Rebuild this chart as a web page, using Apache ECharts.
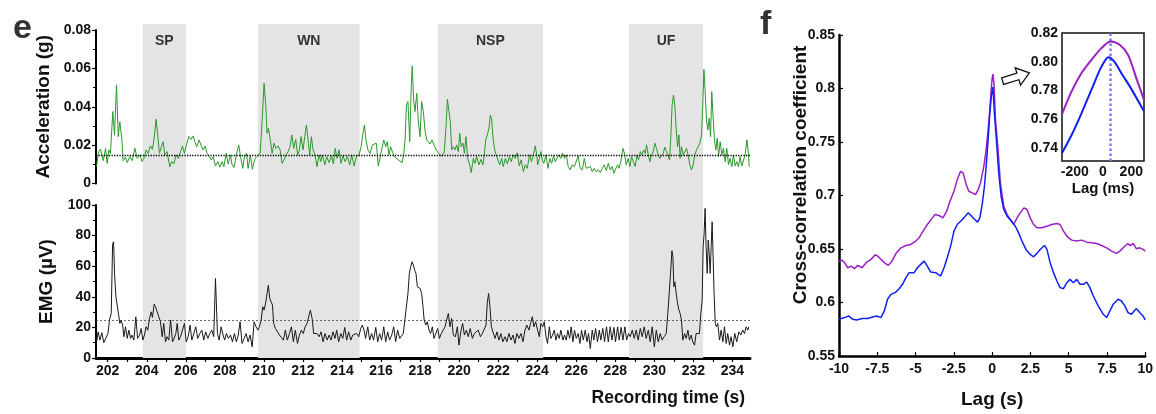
<!DOCTYPE html>
<html>
<head>
<meta charset="utf-8">
<script src="https://cdn.jsdelivr.net/npm/echarts@6/dist/echarts.min.js"></script>
<style>
  html, body { margin: 0; padding: 0; background: #fff; }
  #chart { width: 1156px; height: 414px; }
</style>
</head>
<body>
<div id="chart"></div>
<script>
// panel e, top: acceleration trace [time (s), g]
const accData = [
  [201.43,0.009],[201.53,0.0166],[201.63,0.0178],[201.77,0.0119],[201.89,0.0183],[201.97,0.0105],[202.06,0.0175],[202.14,0.0157],[202.26,0.0375],[202.35,0.0253],
  [202.45,0.0514],[202.54,0.0244],[202.62,0.0322],[202.72,0.0236],[202.79,0.0119],[202.91,0.0137],[203.00,0.0109],[203.13,0.014],[203.25,0.0119],[203.39,0.0183],
  [203.51,0.0131],[203.65,0.0149],[203.76,0.0114],[203.85,0.0131],[203.97,0.0175],[204.07,0.0157],[204.19,0.0196],[204.29,0.0178],[204.38,0.0236],[204.48,0.0335],
  [204.57,0.0244],[204.65,0.0157],[204.75,0.0192],[204.84,0.0218],[204.92,0.0149],[205.04,0.0166],[205.18,0.0088],[205.28,0.0114],[205.39,0.0102],[205.5,0.0149],
  [205.61,0.0131],[205.73,0.0166],[205.83,0.0196],[205.93,0.0157],[206.03,0.0201],[206.15,0.0244],[206.27,0.023],[206.38,0.0248],[206.46,0.0218],[206.56,0.0192],
  [206.68,0.0227],[206.79,0.0196],[206.89,0.0175],[206.99,0.0196],[207.09,0.0157],[207.19,0.0166],[207.31,0.0123],[207.4,0.014],[207.52,0.0091],[207.64,0.0114],
  [207.74,0.0085],[207.86,0.0114],[207.95,0.0088],[208.07,0.0157],[208.17,0.0102],[208.29,0.0149],[208.37,0.0097],[208.47,0.0083],[208.59,0.0149],[208.71,0.0201],
  [208.82,0.0131],[208.92,0.0079],[209.0,0.0137],[209.11,0.0157],[209.19,0.0079],[209.31,0.0149],[209.41,0.0074],[209.52,0.0123],[209.62,0.014],[209.72,0.0149],
  [209.81,0.0157],[209.91,0.0331],[210.01,0.0522],[210.1,0.04],[210.16,0.0262],[210.23,0.0288],[210.33,0.0227],[210.42,0.0157],[210.52,0.021],[210.62,0.0183],
  [210.73,0.0196],[210.83,0.0175],[210.93,0.0105],[211.03,0.0123],[211.14,0.0149],[211.24,0.0166],[211.34,0.0192],[211.43,0.0253],[211.53,0.0183],[211.63,0.023],
  [211.73,0.0149],[211.82,0.0175],[211.9,0.0244],[212.01,0.0175],[212.09,0.0244],[212.18,0.0305],[212.26,0.0227],[212.35,0.0149],[212.43,0.0244],[212.52,0.0175],
  [212.62,0.0149],[212.72,0.0088],[212.83,0.0149],[212.91,0.0114],[212.99,0.0149],[213.12,0.0097],[213.22,0.014],[213.34,0.0109],[213.46,0.0144],[213.56,0.0102],
  [213.65,0.0183],[213.75,0.0131],[213.85,0.0175],[213.95,0.0105],[214.05,0.0144],[214.16,0.0114],[214.28,0.014],[214.4,0.0097],[214.5,0.0149],[214.62,0.0091],
  [214.74,0.014],[214.87,0.0149],[214.98,0.0192],[215.06,0.0253],[215.15,0.0305],[215.23,0.0227],[215.33,0.0175],[215.44,0.0157],[215.56,0.0201],[215.66,0.0196],
  [215.76,0.021],[215.86,0.0091],[215.95,0.0088],[216.03,0.0175],[216.14,0.0227],[216.24,0.0192],[216.32,0.0218],[216.41,0.0149],[216.49,0.0192],[216.6,0.016],
  [216.68,0.014],[216.78,0.0149],[216.89,0.0123],[216.97,0.0131],[217.08,0.0109],[217.16,0.0149],[217.23,0.0227],[217.3,0.0409],[217.38,0.0427],[217.47,0.0218],
  [217.55,0.0514],[217.6,0.0613],[217.67,0.0435],[217.74,0.0375],[217.83,0.047],[217.91,0.0322],[218.0,0.0244],[218.08,0.0427],[218.17,0.0375],[218.25,0.0279],
  [218.34,0.0227],[218.41,0.0236],[218.51,0.0206],[218.61,0.0227],[218.71,0.0218],[218.82,0.0175],[218.92,0.0166],[219.02,0.0149],[219.14,0.0144],[219.24,0.0166],
  [219.33,0.0296],[219.4,0.0439],[219.48,0.0375],[219.55,0.0322],[219.62,0.0175],[219.7,0.0192],[219.79,0.0175],[219.87,0.0201],[219.96,0.0166],[220.03,0.0262],
  [220.11,0.0192],[220.2,0.021],[220.27,0.0157],[220.35,0.0244],[220.44,0.0131],[220.54,0.0097],[220.62,0.0057],[220.73,0.0131],[220.81,0.0105],[220.9,0.014],
  [221.02,0.0097],[221.12,0.0126],[221.22,0.0097],[221.29,0.0149],[221.36,0.0227],[221.44,0.0253],[221.53,0.0288],[221.6,0.0357],[221.67,0.0331],[221.73,0.0244],
  [221.82,0.0175],[221.9,0.0149],[221.99,0.0123],[222.08,0.0097],[222.18,0.0131],[222.26,0.0088],[222.37,0.0131],[222.47,0.0102],[222.57,0.014],[222.67,0.0114],
  [222.77,0.0149],[222.88,0.0131],[222.98,0.016],[223.08,0.0091],[223.18,0.0123],[223.29,0.0062],[223.39,0.0097],[223.49,0.0079],[223.61,0.0149],[223.71,0.0114],
  [223.82,0.0157],[223.9,0.0196],[223.99,0.014],[224.02,0.0097],[224.11,0.0131],[224.19,0.0166],[224.26,0.0123],[224.34,0.0105],[224.45,0.0149],[224.55,0.0079],
  [224.65,0.0131],[224.74,0.0105],[224.84,0.0144],[224.92,0.0114],[225.01,0.0123],[225.11,0.0149],[225.21,0.0131],[225.3,0.0157],[225.39,0.0131],[225.49,0.0149],
  [225.59,0.0088],[225.69,0.0071],[225.79,0.0097],[225.9,0.0088],[226.0,0.0091],[226.1,0.0144],[226.2,0.0079],[226.31,0.0071],[226.41,0.0131],[226.51,0.0079],
  [226.61,0.0071],[226.72,0.0088],[226.82,0.0062],[226.92,0.0079],[227.02,0.0062],[227.13,0.0071],[227.23,0.0057],[227.33,0.0079],[227.43,0.0097],[227.54,0.0067],
  [227.64,0.0105],[227.74,0.0071],[227.84,0.0088],[227.93,0.0053],[228.03,0.0079],[228.12,0.0097],[228.2,0.0079],[228.3,0.0123],[228.39,0.0183],[228.47,0.0157],
  [228.56,0.0097],[228.66,0.0131],[228.75,0.0088],[228.83,0.014],[228.93,0.0149],[229.02,0.0088],[229.11,0.0149],[229.19,0.0123],[229.28,0.0166],[229.36,0.0149],
  [229.45,0.0175],[229.53,0.0157],[229.6,0.0201],[229.69,0.0149],[229.77,0.0114],[229.86,0.0149],[229.94,0.0166],[230.03,0.021],[230.11,0.0183],[230.2,0.0149],
  [230.28,0.0131],[230.37,0.0123],[230.45,0.0157],[230.54,0.0189],[230.62,0.0166],[230.71,0.014],[230.78,0.0123],[230.85,0.0253],[230.91,0.0409],[230.98,0.0461],
  [231.05,0.0409],[231.12,0.0279],[231.19,0.0192],[231.26,0.0253],[231.32,0.0131],[231.39,0.0192],[231.48,0.0149],[231.56,0.0157],[231.65,0.0183],[231.73,0.0149],
  [231.82,0.0097],[231.9,0.0071],[231.99,0.0097],[232.07,0.0149],[232.16,0.0175],[232.25,0.0183],[232.33,0.021],[232.42,0.0253],[232.48,0.0409],[232.54,0.0595],
  [232.6,0.0487],[232.67,0.0331],[232.74,0.0279],[232.81,0.034],[232.88,0.0244],[232.94,0.0479],[233.01,0.0348],[233.08,0.0227],[233.15,0.0175],[233.22,0.0236],
  [233.29,0.014],[233.37,0.0218],[233.46,0.0149],[233.54,0.0183],[233.63,0.0114],[233.71,0.0183],[233.8,0.0097],[233.88,0.0131],[233.97,0.0088],[234.05,0.0149],
  [234.14,0.0091],[234.22,0.0114],[234.31,0.0088],[234.39,0.014],[234.48,0.0091],[234.57,0.0123],[234.65,0.0149],[234.74,0.0227],[234.81,0.0166],[234.86,0.0088]
];

// panel e, bottom: EMG trace [time (s), µV]
const emgData = [
  [201.43,10.6],[201.51,17.1],[201.6,11.7],[201.7,16.5],[201.8,10.0],[201.9,10.6],[202.01,16.0],[202.09,24.8],[202.18,29.1],[202.25,74.4],
  [202.3,76.0],[202.35,55.3],[202.42,40.0],[202.48,41.1],[202.55,29.1],[202.62,22.6],[202.69,24.8],[202.76,21.5],[202.83,13.9],[202.91,20.4],
  [203.0,12.8],[203.08,18.2],[203.17,12.8],[203.24,15.0],[203.34,11.7],[203.44,26.9],[203.53,12.8],[203.63,15.0],[203.71,19.3],[203.8,11.7],
  [203.88,15.0],[203.97,20.4],[204.05,18.2],[204.14,25.9],[204.23,30.2],[204.29,26.5],[204.38,35.2],[204.45,33.5],[204.53,30.2],[204.62,26.9],
  [204.7,23.7],[204.79,13.9],[204.87,22.6],[204.96,10.6],[205.04,13.9],[205.13,11.7],[205.22,24.8],[205.32,10.6],[205.4,12.8],[205.49,16.0],
  [205.56,22.6],[205.64,11.7],[205.73,13.9],[205.83,13.9],[205.93,22.6],[206.02,10.6],[206.12,13.9],[206.22,21.5],[206.31,11.7],[206.41,12.8],
  [206.51,20.4],[206.61,12.8],[206.72,16.0],[206.82,18.2],[206.92,11.7],[207.02,17.1],[207.13,12.8],[207.23,16.0],[207.33,18.2],[207.43,13.9],
  [207.52,52.0],[207.57,53.1],[207.62,16.0],[207.71,11.7],[207.81,20.4],[207.91,15.0],[207.99,11.7],[208.08,16.0],[208.18,12.8],[208.29,15.0],
  [208.39,10.6],[208.49,16.0],[208.59,10.6],[208.68,14.3],[208.78,23.7],[208.88,9.5],[208.99,12.8],[209.09,16.0],[209.19,10.6],[209.29,15.0],
  [209.4,7.3],[209.5,23.7],[209.6,20.4],[209.69,18.2],[209.77,20.4],[209.86,24.8],[209.94,33.5],[210.01,31.3],[210.1,36.7],[210.16,42.2],
  [210.23,47.6],[210.3,38.9],[210.37,37.8],[210.44,34.6],[210.5,22.6],[210.59,19.3],[210.69,18.2],[210.8,15.0],[210.9,16.0],[211.0,11.7],
  [211.1,18.2],[211.2,11.7],[211.31,16.0],[211.41,20.4],[211.51,10.6],[211.61,18.2],[211.72,9.5],[211.82,15.0],[211.92,18.2],[212.02,16.0],
  [212.11,20.4],[212.21,22.6],[212.3,23.7],[212.38,31.3],[212.47,25.9],[212.55,16.0],[212.64,15.0],[212.72,16.0],[212.83,13.9],[212.93,17.1],
  [213.03,10.6],[213.13,16.0],[213.24,11.7],[213.34,15.0],[213.44,11.7],[213.54,17.1],[213.64,12.8],[213.73,18.2],[213.83,10.6],[213.94,16.0],
  [214.04,12.8],[214.14,20.0],[214.24,11.7],[214.34,17.1],[214.45,11.7],[214.55,15.0],[214.65,13.9],[214.75,16.0],[214.86,13.9],[214.96,19.3],
  [215.04,21.5],[215.13,18.2],[215.21,12.8],[215.32,20.4],[215.42,11.7],[215.52,16.0],[215.62,11.7],[215.73,20.0],[215.83,10.6],[215.93,16.0],
  [216.03,11.7],[216.14,20.4],[216.24,10.6],[216.34,17.1],[216.44,11.7],[216.55,15.0],[216.65,20.4],[216.75,10.6],[216.85,18.2],[216.96,12.8],
  [217.06,13.9],[217.14,16.0],[217.23,25.9],[217.31,27.0],[217.38,42.2],[217.45,55.3],[217.52,59.6],[217.59,62.9],[217.66,60.7],[217.72,57.4],
  [217.79,55.3],[217.86,46.6],[217.93,47.6],[218.0,45.5],[218.08,42.2],[218.15,33.5],[218.21,24.8],[218.29,21.5],[218.37,23.7],[218.46,18.2],
  [218.54,16.0],[218.63,20.4],[218.71,12.8],[218.8,11.7],[218.9,19.3],[218.99,12.8],[219.09,16.0],[219.19,17.1],[219.28,20.4],[219.36,24.8],
  [219.45,29.1],[219.53,20.4],[219.62,25.9],[219.7,15.0],[219.81,13.9],[219.91,20.4],[219.99,8.4],[220.1,18.2],[220.18,22.6],[220.27,15.0],
  [220.37,18.2],[220.47,13.9],[220.57,19.3],[220.68,12.8],[220.78,16.0],[220.88,15.0],[220.98,18.2],[221.09,13.9],[221.19,16.0],[221.29,15.0],
  [221.38,21.5],[221.44,35.7],[221.51,42.2],[221.58,33.5],[221.65,20.4],[221.73,19.3],[221.84,12.8],[221.94,17.1],[222.04,11.7],[222.14,16.0],
  [222.24,10.6],[222.35,13.9],[222.45,10.6],[222.55,16.0],[222.66,11.7],[222.76,15.0],[222.86,9.5],[222.96,16.0],[223.06,12.8],[223.17,16.0],
  [223.27,10.6],[223.37,18.2],[223.47,21.5],[223.58,18.2],[223.66,22.6],[223.75,27.0],[223.83,20.4],[223.92,23.7],[224.02,18.2],[224.11,13.9],
  [224.19,22.6],[224.28,20.4],[224.36,23.7],[224.45,13.9],[224.53,9.5],[224.62,20.4],[224.7,12.8],[224.79,15.0],[224.87,18.2],[224.96,11.7],
  [225.04,16.0],[225.13,12.8],[225.21,18.2],[225.32,11.7],[225.4,15.0],[225.49,11.7],[225.57,18.2],[225.66,12.8],[225.74,20.4],[225.83,10.6],
  [225.91,18.2],[226.0,12.8],[226.1,16.0],[226.19,9.5],[226.27,18.2],[226.36,11.7],[226.46,18.2],[226.55,10.6],[226.63,16.0],[226.72,6.2],
  [226.82,18.2],[226.9,11.7],[226.99,19.3],[227.09,10.6],[227.18,18.2],[227.26,11.7],[227.36,19.3],[227.45,10.6],[227.55,20.4],[227.64,10.6],
  [227.74,20.4],[227.83,11.7],[227.93,20.0],[228.01,10.6],[228.12,20.4],[228.2,11.7],[228.3,20.0],[228.39,11.7],[228.49,20.4],[228.58,11.7],
  [228.68,16.0],[228.76,13.9],[228.87,18.2],[228.97,12.8],[229.07,18.2],[229.17,11.7],[229.28,19.3],[229.38,13.9],[229.48,20.4],[229.58,12.8],
  [229.69,18.2],[229.79,10.6],[229.89,20.4],[230.0,7.3],[230.1,18.2],[230.2,10.6],[230.3,16.0],[230.4,11.7],[230.5,13.9],[230.61,16.0],
  [230.69,29.1],[230.76,42.2],[230.83,55.3],[230.9,70.1],[230.95,66.2],[231.0,46.6],[231.05,49.8],[231.12,42.2],[231.19,35.7],[231.26,31.3],
  [231.32,29.1],[231.39,24.8],[231.46,11.7],[231.55,16.0],[231.63,12.8],[231.72,18.2],[231.8,11.7],[231.89,15.0],[231.97,10.6],[232.06,8.4],
  [232.14,16.0],[232.23,15.0],[232.31,16.0],[232.38,29.1],[232.45,37.8],[232.5,72.7],[232.55,81.4],[232.6,97.8],[232.65,72.7],[232.71,55.3],
  [232.76,77.1],[232.81,68.3],[232.86,55.3],[232.91,72.7],[232.96,89.0],[233.01,66.2],[233.06,42.2],[233.12,22.6],[233.18,20.4],[233.25,22.6],
  [233.34,11.7],[233.42,18.2],[233.51,10.6],[233.59,20.4],[233.68,9.5],[233.76,16.0],[233.85,8.4],[233.93,13.9],[234.02,7.3],[234.12,16.0],
  [234.22,10.6],[234.33,17.1],[234.43,15.0],[234.53,18.2],[234.62,16.0],[234.7,20.4],[234.79,18.2],[234.84,20.4]
];

const accThreshold = 0.0148;
const emgThreshold = 24.6;

// stimulus periods (s)
const bandNames = ['SP', 'WN', 'NSP', 'UF'];
const bandStart = [203.8, 209.7, 218.9, 228.7];
const bandEnd = [206.0, 214.9, 224.3, 232.5];

const timeLabels = [202, 204, 206, 208, 210, 212, 214, 216, 218, 220, 222, 224, 226, 228, 230, 232, 234];
const timeTicks = [202, 203, 204, 205, 206, 207, 208, 209, 210, 211, 212, 213, 214, 215, 216, 217, 218,
  219, 220, 221, 222, 223, 224, 225, 226, 227, 228, 229, 230, 231, 232, 233, 234];

// panel f: cross-correlation [lag (s), coefficient]
const corrPurple = [
  [-10,0.6387],[-9.79,0.6396],[-9.64,0.6372],[-9.43,0.6325],[-9.21,0.634],[-8.99,0.6316],[-8.78,0.6347],[-8.49,0.6325],[-8.23,0.6372],[-7.91,0.6403],
  [-7.63,0.6446],[-7.48,0.6434],[-7.26,0.6403],[-6.98,0.6365],[-6.78,0.6347],[-6.54,0.6387],[-6.28,0.6459],[-5.96,0.6511],[-5.63,0.6533],[-5.31,0.6543],
  [-4.98,0.6574],[-4.77,0.6605],[-4.51,0.6667],[-4.23,0.6729],[-3.9,0.6791],[-3.73,0.6822],[-3.47,0.6813],[-3.21,0.6791],[-2.97,0.6853],[-2.75,0.6946],
  [-2.49,0.704],[-2.28,0.7148],[-2.06,0.7226],[-1.89,0.7211],[-1.69,0.7102],[-1.52,0.704],[-1.3,0.7024],[-1.08,0.7009],[-0.91,0.7055],[-0.76,0.7117],
  [-0.54,0.7273],[-0.39,0.7428],[-0.26,0.7614],[-0.15,0.78],[-0.07,0.797],[0.0,0.809],[0.05,0.8135],[0.12,0.805],[0.22,0.7708],[0.39,0.7428],
  [0.54,0.7117],[0.76,0.69],[0.98,0.6822],[1.19,0.6776],[1.41,0.6729],[1.63,0.6791],[1.84,0.6838],[2.08,0.6884],[2.28,0.6869],[2.49,0.6791],
  [2.71,0.6729],[2.93,0.6698],[3.25,0.6698],[3.58,0.6713],[3.9,0.6729],[4.23,0.6738],[4.44,0.6729],[4.66,0.6667],[4.92,0.6614],[5.2,0.6583],
  [5.53,0.6574],[5.85,0.6583],[6.18,0.6564],[6.5,0.6558],[6.83,0.6552],[7.15,0.6533],[7.48,0.6511],[7.8,0.648],[8.13,0.6459],[8.34,0.648],
  [8.56,0.6511],[8.84,0.6549],[9.06,0.6533],[9.21,0.6552],[9.43,0.6502],[9.64,0.6511],[9.86,0.6496],[10,0.648]
];
const corrBlue = [
  [-10,0.5843],[-9.64,0.5859],[-9.36,0.5874],[-9.1,0.5843],[-8.84,0.5837],[-8.49,0.585],[-8.13,0.585],[-7.8,0.5865],[-7.54,0.5874],[-7.26,0.5859],
  [-7.04,0.5921],[-6.83,0.603],[-6.61,0.6076],[-6.33,0.6092],[-6.07,0.6129],[-5.85,0.617],[-5.63,0.6232],[-5.42,0.6279],[-5.09,0.6279],[-4.88,0.6325],
  [-4.66,0.6356],[-4.44,0.6387],[-4.23,0.634],[-4.01,0.6285],[-3.68,0.6279],[-3.36,0.6247],[-3.14,0.6325],[-2.93,0.6418],[-2.71,0.6527],[-2.49,0.6667],
  [-2.28,0.6729],[-2.06,0.676],[-1.84,0.6791],[-1.56,0.6838],[-1.34,0.6807],[-1.13,0.6776],[-0.95,0.6751],[-0.8,0.6791],[-0.65,0.6915],[-0.5,0.7086],
  [-0.37,0.7304],[-0.26,0.7521],[-0.15,0.777],[-0.05,0.793],[0.05,0.8013],[0.15,0.777],[0.28,0.7521],[0.43,0.721],[0.59,0.6993],[0.76,0.6869],
  [0.98,0.6807],[1.26,0.676],[1.52,0.6713],[1.73,0.6651],[1.95,0.6574],[2.21,0.6496],[2.49,0.6449],[2.71,0.6427],[2.93,0.6459],[3.14,0.6496],
  [3.42,0.6533],[3.58,0.6496],[3.79,0.6372],[4.01,0.6279],[4.23,0.6201],[4.44,0.6139],[4.66,0.6129],[4.88,0.6185],[5.09,0.6216],[5.31,0.6185],
  [5.53,0.6216],[5.74,0.617],[5.96,0.617],[6.18,0.6191],[6.39,0.6139],[6.61,0.6061],[6.93,0.5968],[7.26,0.589],[7.48,0.5859],[7.69,0.5921],
  [7.91,0.5983],[8.23,0.603],[8.45,0.6014],[8.67,0.5968],[8.88,0.5906],[9.1,0.589],[9.27,0.5921],[9.43,0.5943],[9.64,0.5906],[9.86,0.5874],[10,0.5837]
];

// inset: zoom around the peak [lag (ms), coefficient]
const insetPurple = [[-290,0.7636],[-223,0.7792],[-153,0.792],[-82,0.8013],[-11,0.8095],[54,0.8141],[118,0.8118],[177,0.8048],[236,0.7885],[290,0.7735]];
const insetBlue = [[-290,0.7365],[-223,0.7489],[-153,0.764],[-82,0.7804],[-11,0.7966],[40,0.8032],[80,0.8001],[138,0.7908],[198,0.7815],[290,0.7655]];
const insetPeakLag = 50;
const insetYLabels = [0.74, 0.76, 0.78, 0.80, 0.82];
const insetXLabels = [-200, 0, 200];

const FONT = "'Liberation Sans', Arial, sans-serif";
const INK = '#111';
const GREEN = '#2a9a2a';
const PURPLE = '#9b1fc6';
const BLUE = '#1020f5';

const tickLabel = (size) => ({ color: INK, fontFamily: FONT, fontWeight: 'bold', fontSize: size });
const titleText = (size) => ({ color: INK, fontFamily: FONT, fontWeight: 'bold', fontSize: size });

const chart = echarts.init(document.getElementById('chart'), null, { renderer: 'canvas' });

chart.setOption({
  animation: false,
  backgroundColor: '#fff',
  grid: [
    { left: 96, top: 30, width: 654, height: 153.5 },
    { left: 96, top: 205, width: 654, height: 153 },
    { left: 96, top: 24, width: 654, height: 334 },
    { left: 839, top: 35, width: 307, height: 322 },
    { left: 1062, top: 33, width: 82, height: 128, show: true, backgroundColor: '#fff', borderColor: INK, borderWidth: 1.5, z: 5 },
  ],
  xAxis: [
    { gridIndex: 0, type: 'value', min: 201.4, max: 234.9, show: false },
    {
      gridIndex: 1, type: 'value', min: 201.4, max: 234.9,
      axisLine: { onZero: false, lineStyle: { color: '#000', width: 3 } },
      axisTick: { customValues: timeTicks, length: 4, lineStyle: { color: '#000', width: 1.2 } },
      axisLabel: { customValues: timeLabels, margin: 6, ...tickLabel(14) },
      splitLine: { show: false },
    },
    { gridIndex: 2, type: 'value', min: 201.4, max: 234.9, show: false },
    {
      gridIndex: 3, type: 'value', min: -10, max: 10, interval: 2.5,
      axisLine: { onZero: false, lineStyle: { color: '#000', width: 2.5 } },
      axisTick: { inside: true, length: 4, lineStyle: { color: '#000', width: 1.2 } },
      axisLabel: { margin: 6, ...tickLabel(14) },
      splitLine: { show: false },
      name: 'Lag (s)', nameLocation: 'middle', nameGap: 34,
      nameTextStyle: titleText(19),
    },
    {
      gridIndex: 4, type: 'value', min: -290, max: 290,
      axisLine: { show: false },
      axisTick: { inside: true, length: 3, customValues: insetXLabels, lineStyle: { color: INK } },
      axisLabel: { customValues: insetXLabels, margin: 4, ...tickLabel(14) },
      splitLine: { show: false },
      name: 'Lag (ms)', nameLocation: 'middle', nameGap: 20,
      nameTextStyle: titleText(15),
    },
  ],
  yAxis: [
    {
      gridIndex: 0, type: 'value', min: 0, max: 0.08, interval: 0.02,
      axisLine: { show: true, onZero: false, lineStyle: { color: '#000', width: 2 } },
      axisTick: { show: true, length: 4, lineStyle: { color: '#000', width: 1.2 } },
      minorTick: { show: true, splitNumber: 2, length: 3, lineStyle: { color: '#000' } },
      axisLabel: { margin: 5, formatter: (v) => (v === 0 ? '0' : v.toFixed(2)), ...tickLabel(14) },
      splitLine: { show: false },
      name: 'Acceleration (g)', nameLocation: 'middle', nameGap: 35,
      nameTextStyle: titleText(19),
    },
    {
      gridIndex: 1, type: 'value', min: 0, max: 100, interval: 20,
      axisLine: { show: true, onZero: false, lineStyle: { color: '#000', width: 2 } },
      axisTick: { show: true, length: 4, lineStyle: { color: '#000', width: 1.2 } },
      minorTick: { show: true, splitNumber: 2, length: 3, lineStyle: { color: '#000' } },
      axisLabel: { margin: 5, ...tickLabel(14) },
      splitLine: { show: false },
      name: 'EMG (µV)', nameLocation: 'middle', nameGap: 35,
      nameTextStyle: titleText(19),
    },
    { gridIndex: 2, type: 'value', min: 0, max: 1, show: false },
    {
      gridIndex: 3, type: 'value', min: 0.55, max: 0.85, interval: 0.05,
      axisLine: { show: true, onZero: false, lineStyle: { color: '#000', width: 2.5 } },
      axisTick: { show: true, inside: true, length: 4, lineStyle: { color: '#000', width: 1.2 } },
      axisLabel: { margin: 4, ...tickLabel(14) },
      splitLine: { show: false },
    },
    {
      gridIndex: 4, type: 'value', min: 0.731, max: 0.82,
      axisLine: { show: false, onZero: false },
      axisTick: { show: true, inside: true, length: 3, customValues: insetYLabels, lineStyle: { color: INK } },
      axisLabel: { customValues: insetYLabels, margin: 4, formatter: (v) => v.toFixed(2), ...tickLabel(14) },
      splitLine: { show: false },
    },
  ],
  series: [
    {
      name: 'bands', type: 'line', xAxisIndex: 2, yAxisIndex: 2, data: [], z: 0, silent: true,
      markArea: {
        silent: true,
        itemStyle: { color: '#e4e4e4' },
        label: {
          show: true, position: 'insideTop', distance: 10,
          color: '#333', fontFamily: FONT, fontWeight: 'bold', fontSize: 14,
        },
        data: bandNames.map((n, i) => [{ name: n, xAxis: bandStart[i] }, { xAxis: bandEnd[i] }]),
      },
    },
    {
      name: 'Acceleration', type: 'line', xAxisIndex: 0, yAxisIndex: 0, data: accData, z: 3,
      showSymbol: false, lineStyle: { color: GREEN, width: 1 },
      markLine: {
        silent: true, precision: 4, symbol: ['none', 'none'], label: { show: false },
        lineStyle: { type: 'dotted', color: '#000', width: 1.3 },
        data: [{ yAxis: accThreshold }],
      },
    },
    {
      name: 'EMG', type: 'line', xAxisIndex: 1, yAxisIndex: 1, data: emgData, z: 3,
      showSymbol: false, lineStyle: { color: '#1a1a1a', width: 1 },
      markLine: {
        silent: true, precision: 2, symbol: ['none', 'none'], label: { show: false },
        lineStyle: { type: [2, 2], color: '#444', width: 0.8 },
        data: [{ yAxis: emgThreshold }],
      },
    },
    {
      name: 'corr purple', type: 'line', xAxisIndex: 3, yAxisIndex: 3, data: corrPurple,
      showSymbol: false, lineStyle: { color: PURPLE, width: 1.5 },
    },
    {
      name: 'corr blue', type: 'line', xAxisIndex: 3, yAxisIndex: 3, data: corrBlue,
      showSymbol: false, lineStyle: { color: BLUE, width: 1.5 },
    },
    {
      name: 'inset purple', type: 'line', xAxisIndex: 4, yAxisIndex: 4, data: insetPurple, z: 6,
      showSymbol: false, smooth: 0.3, lineStyle: { color: PURPLE, width: 2 },
      markLine: {
        silent: true, symbol: ['none', 'none'], label: { show: false },
        lineStyle: { type: 'dotted', color: '#7c7cff', width: 2.5 },
        data: [{ xAxis: insetPeakLag }],
      },
    },
    {
      name: 'inset blue', type: 'line', xAxisIndex: 4, yAxisIndex: 4, data: insetBlue, z: 6,
      showSymbol: false, smooth: 0.3, lineStyle: { color: BLUE, width: 2 },
    },
  ],
  graphic: [
    { type: 'text', left: 13, top: 12, style: { text: 'e', fill: '#333', font: `bold 34px ${FONT}` } },
    { type: 'text', left: 760, top: 8, style: { text: 'f', fill: '#333', font: `bold 34px ${FONT}` } },
    {
      type: 'text', x: 745, y: 398, scaleX: 0.92,
      style: { text: 'Recording time (s)', fill: INK, font: `bold 19px ${FONT}`, align: 'right', verticalAlign: 'middle' },
    },
    {
      type: 'text', x: 801, y: 175, rotation: Math.PI / 2,
      style: { text: 'Cross-correlation coefficient', fill: INK, font: `bold 19px ${FONT}`, align: 'center', verticalAlign: 'middle' },
    },
    {
      type: 'polygon', x: 1016, y: 77, rotation: 0.3, z: 10,
      shape: { points: [[-14, -3.5], [2, -3.5], [2, -9], [14, 0], [2, 9], [2, 3.5], [-14, 3.5]] },
      style: { fill: '#fff', stroke: INK, lineWidth: 1.3 },
    },
  ],
});
</script>
</body>
</html>
